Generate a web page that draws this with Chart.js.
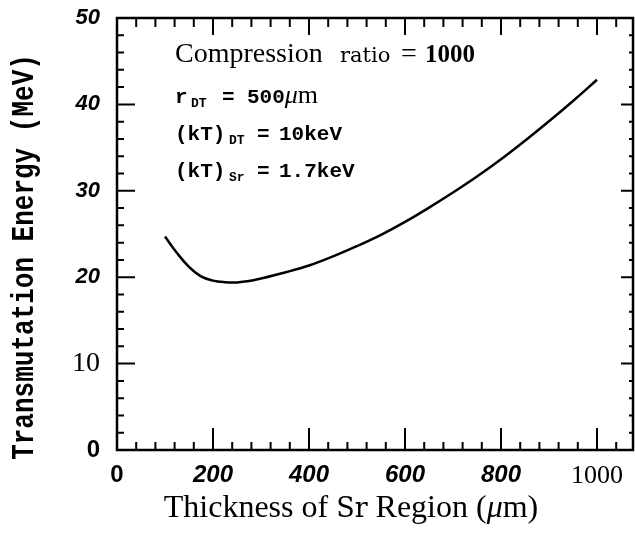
<!DOCTYPE html>
<html>
<head>
<meta charset="utf-8">
<script src="https://cdn.jsdelivr.net/npm/chart.js@4.4.1/dist/chart.umd.min.js"></script>
<style>
  html, body { margin: 0; padding: 0; background: #fff; }
  canvas { display: block; }
</style>
</head>
<body>
<canvas id="chart" width="635" height="534"></canvas>
<script>
// --- DATA ---

const thickness = [100, 125, 150, 175, 200, 225, 250, 275, 300, 350, 400, 450, 500, 550, 600, 650, 700, 750, 800, 850, 900, 950, 1000];
const energy = [24.7, 22.8, 21.2, 20.1, 19.6, 19.42, 19.4, 19.55, 19.85, 20.55, 21.35, 22.4, 23.6, 24.9, 26.4, 28.05, 29.8, 31.65, 33.65, 35.8, 38.05, 40.4, 42.85];

const xTicks = [0, 200, 400, 600, 800, 1000];
const yTicks = [0, 10, 20, 30, 40, 50];
const xMinorStep = 40;
const yMinorStep = 2;

const yTitle = 'Transmutation Energy (MeV)';

const SANS = '"Liberation Sans", Arial, sans-serif';
const SERIF = '"Liberation Serif", "Times New Roman", serif';
const MONO = '"Liberation Mono", "Courier New", monospace';
const DSERIF = '"DejaVu Serif", serif';

// the scan mixes typefaces from one tick label to the next
function yTickFont(c) {
    const v = c.tick ? c.tick.value : 0;
    if (v === 0) return { family: SANS, size: 24, weight: 'bold' };
    if (v === 10) return { family: SERIF, size: 28 };
    return { family: SANS, size: 22, weight: 'bold', style: 'italic' };
}

function xTickFont(c) {
    const v = c.tick ? c.tick.value : 0;
    if (v === 0) return { family: SANS, size: 24, weight: 'bold' };
    if (v === 1000) return { family: SERIF, size: 26 };
    return { family: SANS, size: 24, weight: 'bold', style: 'italic' };
}

function drawRuns(ctx, x, y, runs) {
    runs.forEach(r => {
        ctx.font = r.font;
        ctx.fillText(r.text, x, y + (r.dy || 0));
        x += ctx.measureText(r.text).width;
    });
}

function runsWidth(ctx, runs) {
    return runs.reduce((w, r) => { ctx.font = r.font; return w + ctx.measureText(r.text).width; }, 0);
}

// --- FRAME, INWARD TICKS AND TEXT ---

const framePlugin = {
    id: 'frame',
    afterDraw(chart) {
        const ctx = chart.ctx;
        const a = chart.chartArea;
        const xs = chart.scales.x;
        const ys = chart.scales.y;
        ctx.save();
        ctx.strokeStyle = '#000';
        ctx.fillStyle = '#000';

        ctx.lineWidth = 2.5;
        ctx.strokeRect(a.left, a.top, a.right - a.left, a.bottom - a.top);

        ctx.lineWidth = 2;
        ctx.beginPath();
        for (let v = 0; v <= xs.max; v += xMinorStep) {
            const px = xs.getPixelForValue(v);
            const major = xTicks.includes(v);
            ctx.moveTo(px, a.bottom);
            ctx.lineTo(px, a.bottom - (major ? 22 : 8));
            if (v > 0) {
                ctx.moveTo(px, a.top);
                ctx.lineTo(px, a.top + (major ? 17 : 9));
            }
        }
        for (let v = 0; v <= ys.max; v += yMinorStep) {
            const py = ys.getPixelForValue(v);
            const major = yTicks.includes(v);
            ctx.moveTo(a.left, py);
            ctx.lineTo(a.left + (major ? 18 : 7), py);
            if (v > 0 && v < ys.max) {
                ctx.moveTo(a.right, py);
                ctx.lineTo(a.right - (major ? 12 : 4), py);
            }
        }
        ctx.stroke();

        // annotation block
        ctx.textAlign = 'left';
        ctx.textBaseline = 'alphabetic';
        ctx.font = '28px ' + SERIF;
        ctx.fillText('Compression', 175, 62);
        ctx.font = '21px ' + DSERIF;
        ctx.fillText('ratio', 340, 62);
        ctx.font = '28px ' + SERIF;
        ctx.fillText('=', 401, 62);
        ctx.font = 'bold 25px ' + SERIF;
        ctx.fillText('1000', 425, 62);

        const m = 'bold 21px ' + MONO;
        const sub = 'bold 13px ' + MONO;
        ctx.font = m; ctx.fillText('r', 175, 103);
        ctx.font = sub; ctx.fillText('DT', 191, 107);
        ctx.font = m; ctx.fillText('=', 222, 103);
        drawRuns(ctx, 247, 103, [
            { text: '500', font: m },
            { text: '\u03bc', font: 'italic 26px ' + SERIF },
            { text: 'm', font: '26px ' + SERIF }
        ]);

        [['DT', '10keV', 140], ['Sr', '1.7keV', 177]].forEach(([s, val, by]) => {
            ctx.font = m; ctx.fillText('(kT)', 175, by);
            ctx.font = sub; ctx.fillText(s, 229, by + 4);
            ctx.font = m; ctx.fillText('=', 257, by);
            ctx.fillText(val, 279, by);
        });

        // x axis title
        const xRuns = [
            { text: 'Thickness of ', font: '32px ' + SERIF },
            { text: 'Sr', font: '27px ' + DSERIF },
            { text: ' Region (', font: '32px ' + SERIF },
            { text: '\u03bc', font: 'italic 32px ' + SERIF },
            { text: 'm)', font: '32px ' + SERIF }
        ];
        drawRuns(ctx, 351 - runsWidth(ctx, xRuns) / 2, 517, xRuns);

        // y axis title (the scan prints it tall and narrow)
        ctx.translate(25, 257);
        ctx.rotate(-Math.PI / 2);
        ctx.scale(1, 1.2);
        ctx.textAlign = 'center';
        ctx.textBaseline = 'middle';
        ctx.font = 'bold 26px ' + MONO;
        ctx.fillText(yTitle, 0, 0);
        ctx.restore();
    }
};

// --- CHART ---

new Chart(document.getElementById('chart'), {
    type: 'line',
    data: {
        datasets: [{
            data: thickness.map((t, i) => ({ x: t, y: energy[i] })),
            borderColor: '#000',
            borderWidth: 2.5,
            pointRadius: 0,
            fill: false,
            tension: 0.4
        }]
    },
    options: {
        responsive: false,
        animation: false,
        devicePixelRatio: 1,
        layout: { padding: { top: 18, right: 2, left: 0, bottom: 0 } },
        plugins: { legend: { display: false }, tooltip: { enabled: false } },
        scales: {
            x: {
                type: 'linear',
                min: 0,
                max: 1075,
                afterBuildTicks: s => { s.ticks = xTicks.map(v => ({ value: v })); },
                afterFit: s => { s.height = 84; s.paddingLeft = 0; s.paddingRight = 0; },
                grid: { display: false, drawTicks: false },
                border: { display: false },
                ticks: { color: '#000', padding: 11, maxRotation: 0, font: xTickFont, callback: v => String(v) }
            },
            y: {
                min: 0,
                max: 50,
                afterBuildTicks: s => { s.ticks = yTicks.map(v => ({ value: v })); },
                afterFit: s => { s.width = 117; s.paddingTop = 0; s.paddingBottom = 0; },
                grid: { display: false, drawTicks: false },
                border: { display: false },
                ticks: { color: '#000', padding: 17, font: yTickFont, callback: v => String(v) }
            }
        }
    },
    plugins: [framePlugin]
});
</script>
</body>
</html>
